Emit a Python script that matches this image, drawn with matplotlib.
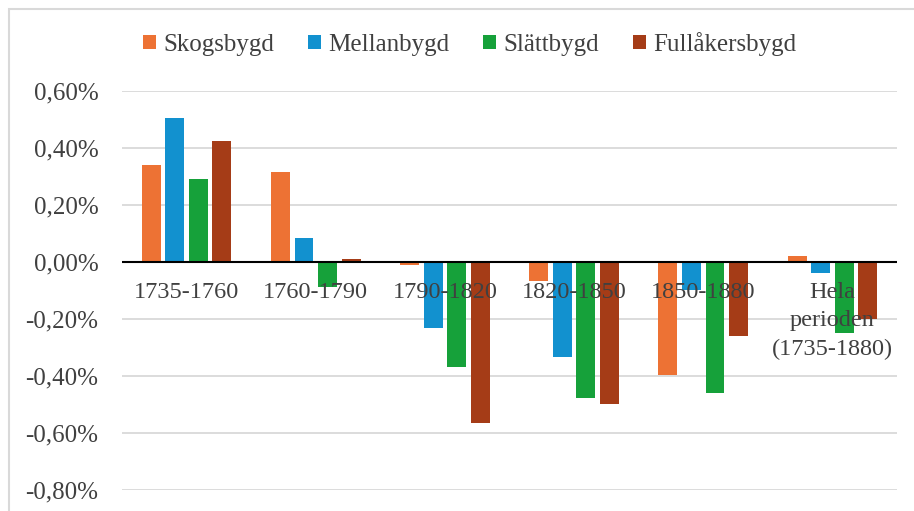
import matplotlib
matplotlib.use("Agg")
import matplotlib.pyplot as plt
import numpy as np
from matplotlib.patches import Rectangle
from matplotlib.ticker import FuncFormatter

categories = ["1735-1760", "1760-1790", "1790-1820", "1820-1850", "1850-1880",
              "Hela\nperioden\n(1735-1880)"]
series_names = ["Skogsbygd", "Mellanbygd", "Slättbygd", "Fullåkersbygd"]
skogsbygd = [0.34, 0.315, -0.01, -0.065, -0.395, 0.02]
mellanbygd = [0.505, 0.084, -0.23, -0.333, -0.10, -0.04]
slattbygd = [0.29, -0.088, -0.37, -0.477, -0.46, -0.25]
fullakersbygd = [0.425, 0.01, -0.565, -0.497, -0.26, -0.20]
yticks = [0.6, 0.4, 0.2, 0.0, -0.2, -0.4, -0.6, -0.8]

colors = ["#ED7234", "#1291CF", "#16A13A", "#A53C17"]
series = [skogsbygd, mellanbygd, slattbygd, fullakersbygd]

plt.rcParams['font.family'] = ['Liberation Serif', 'DejaVu Serif']

W, H = 914, 511
fig = plt.figure(figsize=(W / 100, H / 100), dpi=100)
fig.patch.set_facecolor("white")

# outer chart frame
fig.add_artist(Rectangle((9 / W, -0.05), 1.2, 1 - 9 / H + 0.05,
                         transform=fig.transFigure, fill=False,
                         edgecolor="#D9D9D9", linewidth=1.5))

ax = fig.add_axes([122 / W, 1 - 490 / H, (897 - 122) / W, (490 - 91) / H])
x = np.arange(len(categories))
stride = 0.182
width = 0.147
for i, (name, vals, c) in enumerate(zip(series_names, series, colors)):
    ax.bar(x + (i - 1.5) * stride, vals, width=width, color=c, label=name, zorder=3)

ax.set_xlim(-0.5, len(categories) - 0.5)
ax.set_ylim(-0.8, 0.6)
ax.set_yticks(yticks)
ax.yaxis.set_major_formatter(FuncFormatter(lambda v, p: f"{v:.2f}%".replace(".", ",")))
ax.grid(axis="y", color="#D9D9D9", linewidth=1.3, zorder=0)
ax.axhline(0, color="black", linewidth=1.5, zorder=4)
for s in ["top", "right", "left", "bottom"]:
    ax.spines[s].set_visible(False)
ax.tick_params(axis="y", length=0, pad=17, labelsize=18, labelcolor="#404040")
ax.set_xticks(x)
ax.set_xticklabels([])
ax.tick_params(axis="x", length=0)
for xi, lab in zip(x, categories):
    ax.text(xi, -0.07, lab, ha="center", va="top", fontsize=17.5, color="#404040",
            linespacing=1.47, zorder=5)

leg = fig.legend(loc="center", bbox_to_anchor=(0.514, 1 - 44 / H), ncol=4, frameon=False,
                 fontsize=18, handlelength=0.5, handleheight=0.5, handletextpad=0.3,
                 columnspacing=1.36)
for t in leg.get_texts():
    t.set_color("#404040")

fig.savefig("out.png", dpi=100)
